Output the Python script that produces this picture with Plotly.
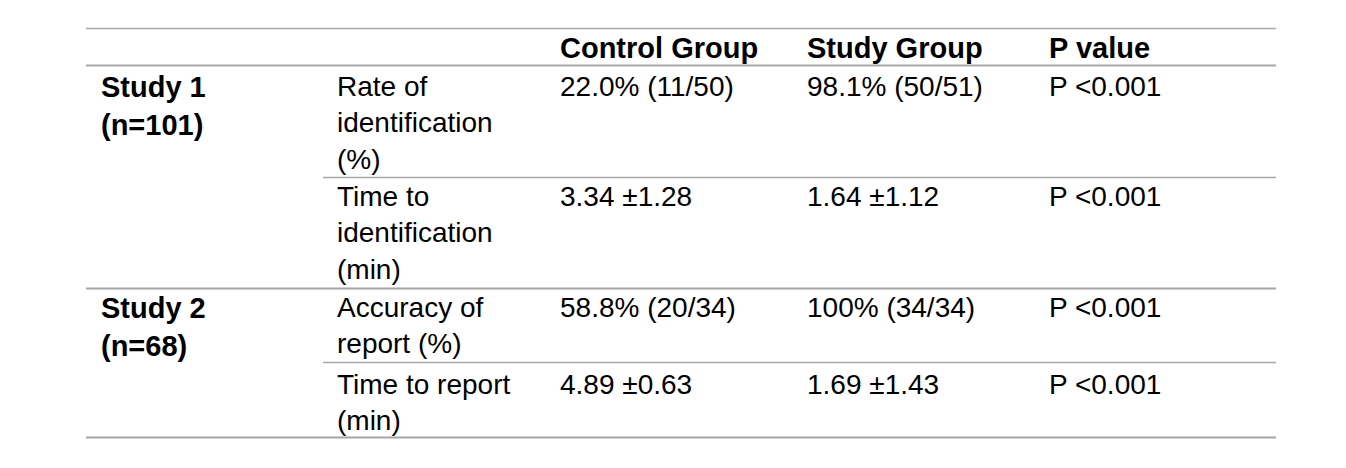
import plotly.graph_objects as go

headers = ["", "", "Control Group", "Study Group", "P value"]
study_labels = ["Study 1<br>(n=101)", "Study 2<br>(n=68)"]
measures = ["Rate of<br>identification<br>(%)", "Time to<br>identification<br>(min)",
            "Accuracy of<br>report (%)", "Time to report<br>(min)"]
measure_study = [0, 0, 1, 1]
control_vals = ["22.0% (11/50)", "3.34 ±1.28", "58.8% (20/34)", "4.89 ±0.63"]
study_vals = ["98.1% (50/51)", "1.64 ±1.12", "100% (34/34)", "1.69 ±1.43"]
p_vals = ["P <0.001", "P <0.001", "P <0.001", "P <0.001"]

# layout geometry (axis units = screen pixels; page body has an 8px margin)
W, H = 1346, 468
OFF = 8
col_x = [99, 335, 558, 805, 1047]
left, right, sub_left = 86, 1276, 323
header_top = 30
row_tops = [69, 179, 290, 367]
row_lines = [177.5, 288.5, 362.5, 437.5]
FONT = "Liberation Sans, Arial, sans-serif"
FS = 28
TXT = "#000000"
LINE = "#a6a6a6"

fig = go.Figure()
fig.add_trace(go.Scatter(x=[OFF, W], y=[OFF, H], mode="markers", marker=dict(opacity=0),
                         hoverinfo="skip", showlegend=False))

ann = []
def add(x, y, text, bold=False):
    ann.append(dict(x=x, y=y, xref="x", yref="y", text=f"<b>{text}</b>" if bold else text,
                    showarrow=False, xanchor="left", yanchor="top", align="left",
                    font=dict(family=FONT, size=FS + (1 if bold else 0), color=TXT)))

for c, h in enumerate(headers):
    if h:
        add(col_x[c], header_top, h, bold=True)

study_first_row = {}
for i, s in enumerate(measure_study):
    study_first_row.setdefault(s, i)
for s, lab in enumerate(study_labels):
    add(col_x[0], row_tops[study_first_row[s]], lab, bold=True)

for i in range(len(measures)):
    add(col_x[1], row_tops[i], measures[i])
    add(col_x[2], row_tops[i], control_vals[i])
    add(col_x[3], row_tops[i], study_vals[i])
    add(col_x[4], row_tops[i], p_vals[i])

shapes = [
    dict(type="line", x0=left, x1=right, y0=28.5, y1=28.5, xref="x", yref="y", line=dict(color=LINE, width=1.5)),
    dict(type="line", x0=left, x1=right, y0=65.5, y1=65.5, xref="x", yref="y", line=dict(color=LINE, width=2)),
]
for i, yl in enumerate(row_lines):
    last_of_study = (i == len(measures) - 1) or (measure_study[i + 1] != measure_study[i])
    x0 = left if last_of_study else sub_left
    shapes.append(dict(type="line", x0=x0, x1=right, y0=yl, y1=yl, xref="x", yref="y",
                       line=dict(color=LINE, width=2 if last_of_study else 1.5)))

fig.update_layout(
    width=W, height=H, margin=dict(l=0, r=0, t=0, b=0),
    paper_bgcolor="white", plot_bgcolor="white",
    xaxis=dict(range=[OFF, W + OFF], visible=False, fixedrange=True),
    yaxis=dict(range=[H + OFF, OFF], visible=False, fixedrange=True),
    annotations=ann, shapes=shapes, showlegend=False,
)
fig.write_html("out.html")
